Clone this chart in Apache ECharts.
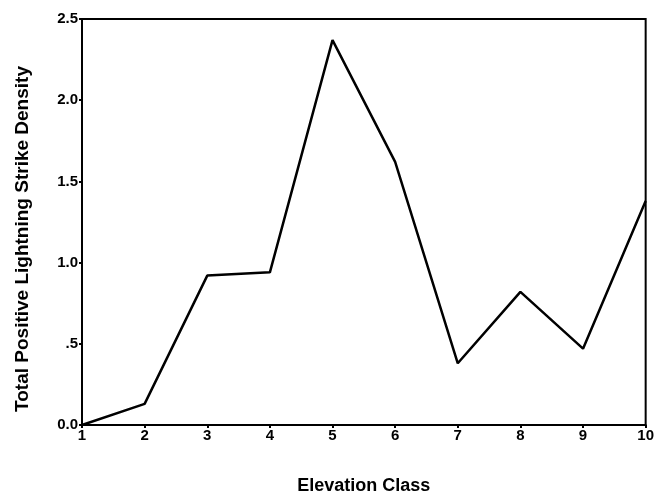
<!DOCTYPE html>
<html>
<head>
<meta charset="utf-8">
<script src="https://cdn.jsdelivr.net/npm/echarts@6/dist/echarts.min.js"></script>
<style>
  html, body { margin: 0; padding: 0; background: #fff; }
  #chart { width: 657px; height: 500px; }
</style>
</head>
<body>
<div id="chart"></div>
<script>
  // elevation classes and density values
  var elevationClass = [1, 2, 3, 4, 5, 6, 7, 8, 9, 10];
  var strikeDensity = [0.0, 0.13, 0.92, 0.94, 2.37, 1.62, 0.38, 0.82, 0.47, 1.38];
  var yTickLabels = { '0': '0.0', '0.5': '.5', '1': '1.0', '1.5': '1.5', '2': '2.0', '2.5': '2.5' };

  var chart = echarts.init(document.getElementById('chart'));

  var points = [];
  for (var i = 0; i < elevationClass.length; i++) {
    points.push([elevationClass[i], strikeDensity[i]]);
  }

  var labelFont = {
    fontFamily: 'Liberation Sans, Arial, sans-serif',
    fontWeight: 'bold',
    fontSize: 15,
    color: '#000'
  };

  chart.setOption({
    animation: false,
    backgroundColor: '#fff',
    grid: {
      left: 82,
      right: 10,
      top: 19,
      bottom: 74,
      show: true,
      borderColor: '#000',
      borderWidth: 2
    },
    xAxis: {
      type: 'value',
      min: 1,
      max: 10,
      interval: 1,
      name: 'Elevation Class',
      nameLocation: 'middle',
      nameGap: 52,
      nameTextStyle: {
        fontFamily: 'Liberation Sans, Arial, sans-serif',
        fontWeight: 'bold',
        fontSize: 18,
        color: '#000'
      },
      axisLine: { show: true, lineStyle: { color: '#000', width: 2 } },
      axisTick: { show: true, length: 3, lineStyle: { color: '#000', width: 2 } },
      axisLabel: Object.assign({ margin: 3 }, labelFont),
      splitLine: { show: false }
    },
    yAxis: {
      type: 'value',
      min: 0,
      max: 2.5,
      interval: 0.5,
      name: 'Total Positive Lightning Strike Density',
      nameLocation: 'middle',
      nameGap: 50,
      nameTextStyle: {
        fontFamily: 'Liberation Sans, Arial, sans-serif',
        fontWeight: 'bold',
        fontSize: 19,
        color: '#000',
        padding: [0, 34, 0, 0]
      },
      axisLine: { show: true, lineStyle: { color: '#000', width: 2 } },
      axisTick: { show: true, length: 3, lineStyle: { color: '#000', width: 2 } },
      axisLabel: Object.assign({
        margin: 4,
        formatter: function (v) {
          return yTickLabels[String(v)] !== undefined ? yTickLabels[String(v)] : v;
        }
      }, labelFont),
      splitLine: { show: false }
    },
    series: [
      {
        type: 'line',
        data: points,
        showSymbol: false,
        symbol: 'none',
        lineStyle: { color: '#000', width: 2.5 },
        z: 3
      }
    ]
  });
</script>
</body>
</html>
